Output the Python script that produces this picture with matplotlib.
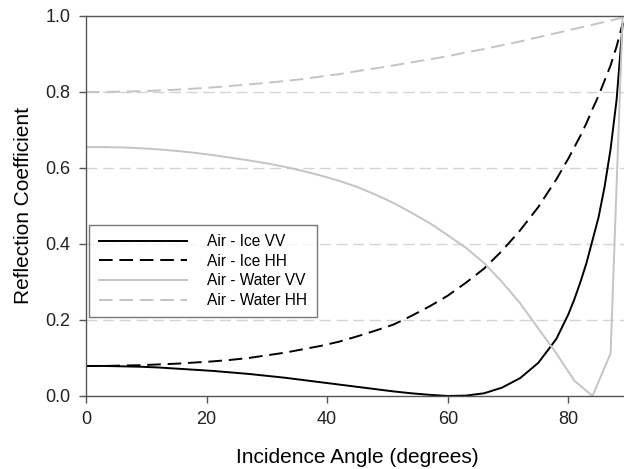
import matplotlib
matplotlib.use("Agg")
import matplotlib.pyplot as plt

plt.rcParams['font.family'] = ['Liberation Sans', 'DejaVu Sans']

# incidence angles (degrees) and reflection coefficients
ang_water = [0, 3, 6, 9, 12, 15, 18, 21, 24, 27, 30, 33, 36, 39, 42, 45, 48, 51,
             54, 57, 60, 63, 66, 69, 72, 75, 78, 81, 84, 87, 89]
water_vv = [0.655, 0.655, 0.654, 0.652, 0.649, 0.645, 0.640, 0.634, 0.627, 0.620,
            0.612, 0.603, 0.592, 0.580, 0.566, 0.550, 0.530, 0.508, 0.482, 0.455,
            0.423, 0.390, 0.350, 0.300, 0.244, 0.178, 0.112, 0.040, 0.000, 0.112, 1.000]
water_hh = [0.800, 0.800, 0.801, 0.802, 0.804, 0.806, 0.809, 0.812, 0.816, 0.820,
            0.824, 0.829, 0.834, 0.841, 0.847, 0.855, 0.862, 0.870, 0.878, 0.886,
            0.894, 0.904, 0.913, 0.923, 0.933, 0.944, 0.955, 0.966, 0.977, 0.988, 0.996]

ang_ice = [0, 3, 6, 9, 12, 15, 18, 21, 24, 27, 30, 33, 36, 39, 42, 45, 48, 51,
           54, 57, 60, 63, 66, 69, 72, 75, 78, 80, 81, 82, 83, 84, 85, 86, 87, 88, 89]
ice_vv = [0.079, 0.079, 0.078, 0.077, 0.075, 0.072, 0.069, 0.066, 0.062, 0.058,
          0.053, 0.048, 0.042, 0.036, 0.030, 0.024, 0.018, 0.012, 0.007, 0.003,
          0.000, 0.001, 0.007, 0.022, 0.047, 0.087, 0.150, 0.215, 0.255, 0.300,
          0.350, 0.410, 0.470, 0.550, 0.650, 0.780, 0.980]
ice_hh = [0.079, 0.079, 0.080, 0.081, 0.083, 0.085, 0.088, 0.091, 0.095, 0.100,
          0.107, 0.114, 0.123, 0.132, 0.143, 0.157, 0.172, 0.188, 0.211, 0.236,
          0.264, 0.298, 0.335, 0.382, 0.436, 0.497, 0.570, 0.625, 0.655, 0.685,
          0.718, 0.755, 0.790, 0.830, 0.870, 0.920, 0.980]

fig = plt.figure(figsize=(6.24, 4.69), dpi=100)
ax = fig.add_axes([0.1378, 0.1557, 0.8697, 0.8102])

dash = (0, (7, 3.5))
ax.plot(ang_ice, ice_vv, color='black', lw=1.4, label='Air - Ice VV')
ax.plot(ang_ice, ice_hh, color='black', lw=1.4, linestyle=dash, label='Air - Ice HH')
ax.plot(ang_water, water_vv, color='#c4c4c4', lw=1.4, label='Air - Water VV')
ax.plot(ang_water, water_hh, color='#c4c4c4', lw=1.4, linestyle=dash, label='Air - Water HH')

ax.set_xlim(0, 90)
ax.set_ylim(0, 1.0)
ax.set_xticks([0, 20, 40, 60, 80])
ax.set_yticks([0.0, 0.2, 0.4, 0.6, 0.8, 1.0])
ax.set_yticklabels(['0.0', '0.2', '0.4', '0.6', '0.8', '1.0'])

# dashed horizontal grid
for y in [0.2, 0.4, 0.6, 0.8]:
    ax.axhline(y, color='#d4d4d4', lw=1.0, linestyle=(0, (8, 4)), zorder=0)

for side in ['left', 'bottom', 'top']:
    ax.spines[side].set_color('#555555')
    ax.spines[side].set_linewidth(1.0)
ax.spines['right'].set_visible(False)
ax.tick_params(direction='out', length=5, width=1.0, color='#555555',
               labelsize=13, labelcolor='#222222')
ax.tick_params(axis='x', pad=6)
ax.tick_params(axis='y', pad=6)

ax.set_xlabel('Incidence Angle (degrees)', fontsize=15, labelpad=14)
ax.set_ylabel('Reflection Coefficient', fontsize=15, labelpad=9)

leg = ax.legend(loc='lower left', bbox_to_anchor=(0.006, 0.207), borderaxespad=0,
                fontsize=11.2, handlelength=5.7, handletextpad=1.3, labelspacing=0.3,
                frameon=True, fancybox=False, edgecolor='#555555', borderpad=0.6)
leg.get_frame().set_linewidth(1.0)

fig.savefig('out.png', dpi=100)
